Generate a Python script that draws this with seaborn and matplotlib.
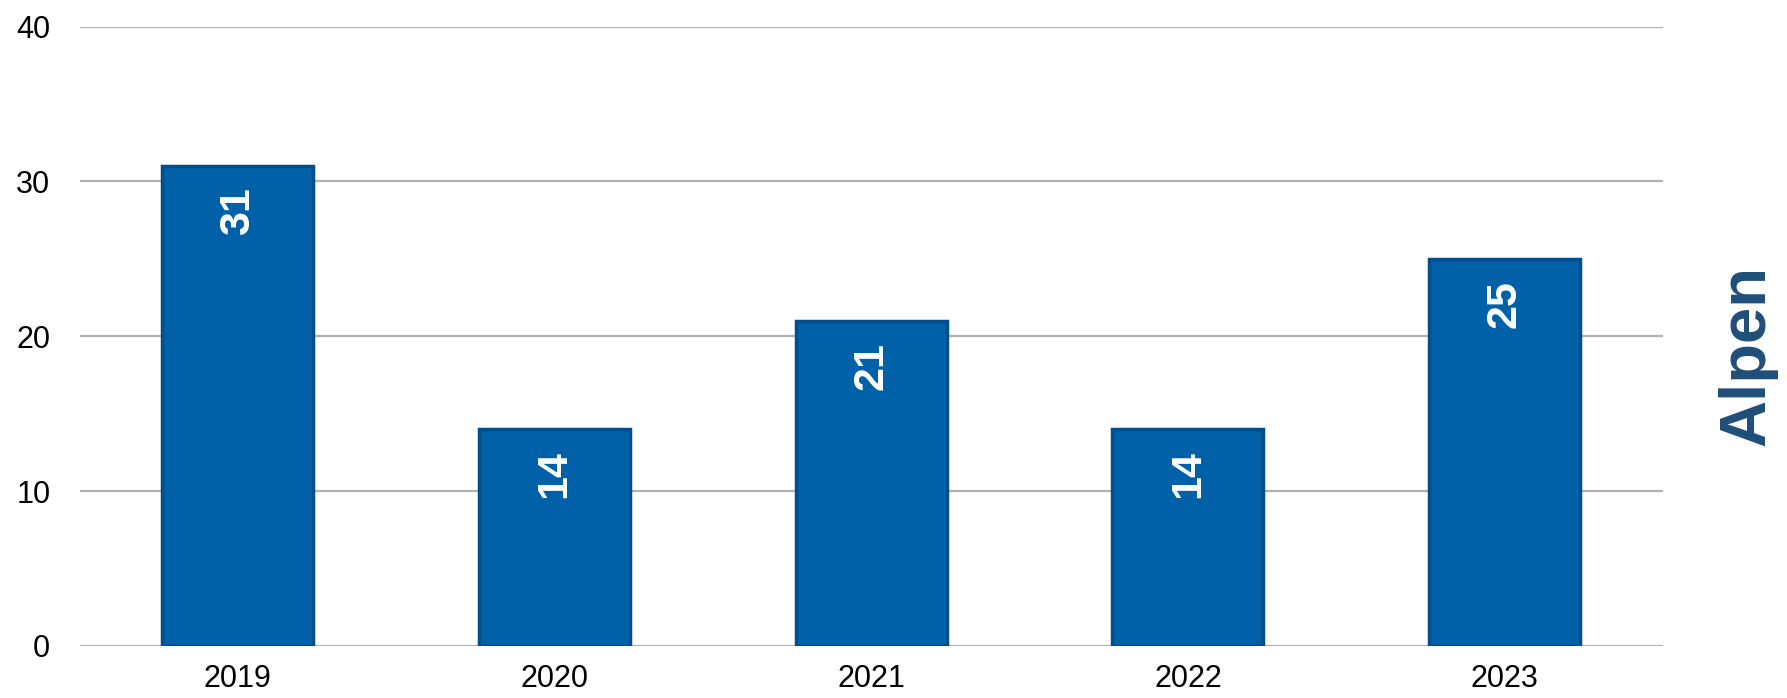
import pandas as pd
import seaborn as sns
import matplotlib.pyplot as plt

years = ['2019', '2020', '2021', '2022', '2023']
counts = [31, 14, 21, 14, 25]
y_ticks = [0, 10, 20, 30, 40]

sns.set_style('white')
plt.rcParams['font.family'] = ['Liberation Sans', 'DejaVu Sans']

df = pd.DataFrame({'year': years, 'count': counts})

fig = plt.figure(figsize=(17.87, 6.98), dpi=100)
ax = fig.add_axes([0.0445, 0.0745, 0.8861, 0.8873])

sns.barplot(data=df, x='year', y='count', color='#0060A8', saturation=1,
            width=0.477, edgecolor='#004F8C', linewidth=2.5, ax=ax, zorder=3)

ax.set_ylim(0, 40)
ax.set_yticks(y_ticks)
ax.yaxis.grid(True, color='#B0B0B0', linewidth=1.6, zorder=0)
ax.xaxis.grid(False)
ax.set_axisbelow(True)
for s in ax.spines.values():
    s.set_visible(False)
ax.tick_params(axis='both', length=0, labelsize=22, colors='black')
ax.tick_params(axis='y', pad=21)
ax.tick_params(axis='x', pad=13)
ax.set_xlabel('')
ax.set_ylabel('')

# value labels inside the top of each bar
for rect, val in zip(ax.patches, counts):
    ax.annotate(str(val), (rect.get_x() + rect.get_width() / 2, rect.get_height()),
                xytext=(0, -15), textcoords='offset points',
                ha='center', va='top', rotation=90,
                color='white', fontsize=31, fontweight='bold')

fig.text(0.9776, 0.49, 'Alpen', rotation=90, ha='center', va='center',
         fontsize=47, fontweight='bold', color='#1F4E79')

fig.savefig('out.png', dpi=100)
